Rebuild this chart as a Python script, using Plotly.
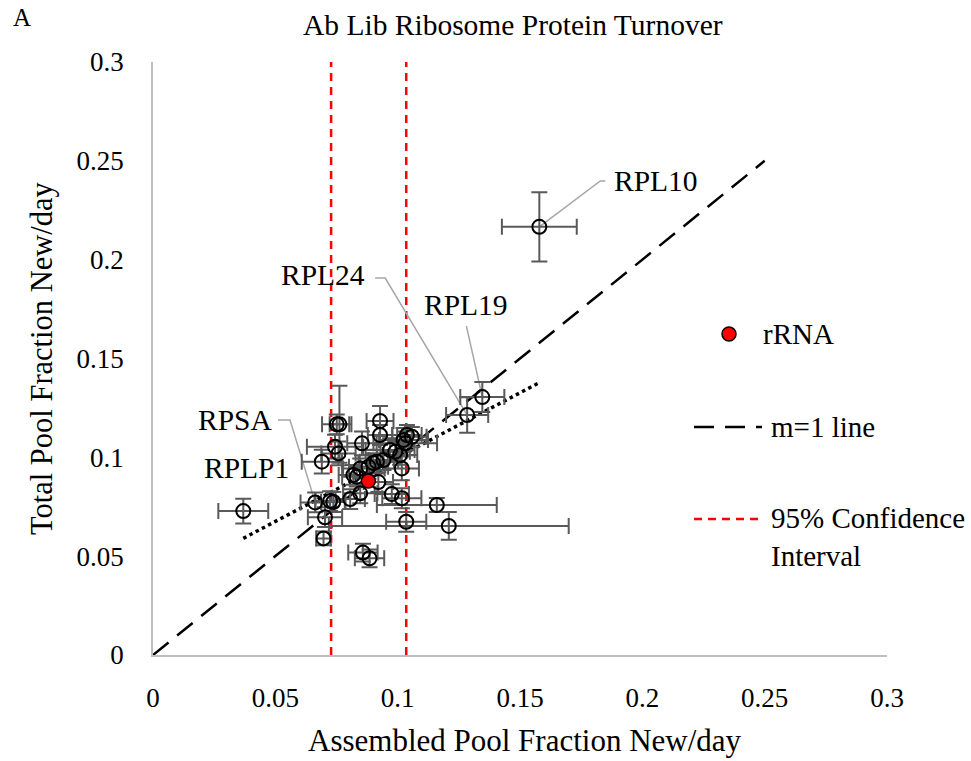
import plotly.graph_objects as go

# Ribosomal protein turnover: fraction new per day in the assembled pool (x)
# versus the total pool (y), with standard-error bars in both directions.
assembled = [0.1579, 0.1346, 0.1284, 0.0751, 0.0762, 0.0928, 0.0928, 0.0854, 0.0744, 0.0758,
             0.0690, 0.0969, 0.0990, 0.1010, 0.1038, 0.1058, 0.1024, 0.1031, 0.0915, 0.0942,
             0.0881, 0.0847, 0.0819, 0.0833, 0.1017, 0.0921, 0.0847, 0.0976, 0.1017, 0.0806,
             0.0663, 0.0724, 0.0737, 0.0369, 0.0703, 0.0697, 0.1160, 0.1035, 0.1209, 0.0858,
             0.0885, 0.0900]
total = [0.2166, 0.1305, 0.1214, 0.1167, 0.1167, 0.1184, 0.1113, 0.1071, 0.1054, 0.1020,
         0.0978, 0.1037, 0.1028, 0.1012, 0.1113, 0.1104, 0.1088, 0.1071, 0.0978, 0.0986,
         0.0952, 0.0944, 0.0911, 0.0902, 0.0944, 0.0875, 0.0818, 0.0814, 0.0793, 0.0789,
         0.0772, 0.0779, 0.0774, 0.0728, 0.0697, 0.0590, 0.0759, 0.0674, 0.0653, 0.0518,
         0.0489, 0.0971]
assembled_err = [0.0153, 0.0090, 0.0086, 0.0060, 0.0040, 0.0055, 0.0050, 0.0060, 0.0115, 0.0070,
                 0.0082, 0.0100, 0.0060, 0.0070, 0.0060, 0.0060, 0.0100, 0.0130, 0.0070, 0.0060,
                 0.0080, 0.0070, 0.0060, 0.0060, 0.0070, 0.0060, 0.0070, 0.0070, 0.0080, 0.0060,
                 0.0060, 0.0060, 0.0050, 0.0102, 0.0070, 0.0030, 0.0245, 0.0082, 0.0490, 0.0060,
                 0.0060, 0.0060]
total_err = [0.0175, 0.0076, 0.0090, 0.0050, 0.0195, 0.0076, 0.0050, 0.0060, 0.0060, 0.0060,
             0.0060, 0.0060, 0.0050, 0.0050, 0.0050, 0.0050, 0.0060, 0.0060, 0.0060, 0.0050,
             0.0060, 0.0050, 0.0050, 0.0050, 0.0060, 0.0050, 0.0050, 0.0050, 0.0050, 0.0050,
             0.0050, 0.0050, 0.0050, 0.0063, 0.0050, 0.0035, 0.0035, 0.0050, 0.0070, 0.0045,
             0.0045, 0.0050]

# Named proteins: index into the arrays above, label position (data units)
# and the elbow of the leader line (None = no leader).
named = {
    "RPL10": dict(idx=0, text=(0.1877, 0.2398), anchor="left", elbow=[(0.1849, 0.2398), (0.1828, 0.2398)]),
    "RPL19": dict(idx=1, text=(0.1281, 0.1770), anchor="center", elbow=[(0.1281, 0.1664)]),
    "RPL24": dict(idx=2, text=(0.0695, 0.1920), anchor="center", elbow=[(0.0908, 0.1907), (0.0949, 0.1907)]),
    "RPSA": dict(idx=30, text=(0.0335, 0.1189), anchor="center", elbow=[(0.0511, 0.1189), (0.0560, 0.1189)]),
    "RPLP1": dict(idx=31, text=(0.0384, 0.0946), anchor="center", elbow=None),
}

# rRNA reference point and its 95% confidence interval
rrna_x = [0.0880]
rrna_y = [0.0880]
ci_bounds = [0.0728, 0.1035]
unity_max = 0.25

# linear trendline of the protein data (slope, intercept)
trend_slope = 0.651
trend_intercept = 0.0350

x_ticks = [0, 0.05, 0.1, 0.15, 0.2, 0.25, 0.3]
y_ticks = [0, 0.05, 0.1, 0.15, 0.2, 0.25, 0.3]

FONT = "Liberation Serif, Times New Roman, serif"
W, H = 971, 761
L, R, T, B = 153, 84, 62, 106
PW, PH = W - L - R, H - T - B


def px(x, y):
    """Pixel position on the page -> paper coordinates."""
    return (x - L) / PW, (H - B - y) / PH


fig = go.Figure()

# y = x reference line
fig.add_trace(go.Scatter(x=[0, unity_max], y=[0, unity_max], mode="lines",
                         line=dict(color="black", width=2.5, dash="20px,11px"),
                         showlegend=False, hoverinfo="skip"))

# 95% confidence interval of the rRNA turnover
for cb in ci_bounds:
    fig.add_trace(go.Scatter(x=[cb, cb], y=[0, 0.3], mode="lines",
                             line=dict(color="#ff0000", width=2.5, dash="8px,6px"),
                             showlegend=False, hoverinfo="skip"))

# trendline spanning the protein data
tx = [min(assembled), max(assembled)]
fig.add_trace(go.Scatter(x=tx, y=[trend_slope * v + trend_intercept for v in tx], mode="lines",
                         line=dict(color="black", width=3.5, dash="dot"),
                         showlegend=False, hoverinfo="skip"))

# leader lines for the named proteins
for name, info in named.items():
    if info["elbow"] is None:
        continue
    pts = info["elbow"] + [(assembled[info["idx"]], total[info["idx"]])]
    fig.add_trace(go.Scatter(x=[p[0] for p in pts], y=[p[1] for p in pts], mode="lines",
                             line=dict(color="#a6a6a6", width=1.5),
                             showlegend=False, hoverinfo="skip"))

# protein measurements
fig.add_trace(go.Scatter(
    x=assembled, y=total, mode="markers",
    marker=dict(symbol="circle-open", size=14, color="black", line=dict(width=2)),
    error_x=dict(type="data", array=assembled_err, color="#595959", thickness=2, width=8),
    error_y=dict(type="data", array=total_err, color="#595959", thickness=2, width=8),
    showlegend=False, hoverinfo="skip"))

# rRNA
fig.add_trace(go.Scatter(x=rrna_x, y=rrna_y, mode="markers",
                         marker=dict(symbol="circle", size=14, color="#ff0000",
                                     line=dict(color="black", width=1.5)),
                         showlegend=False, hoverinfo="skip"))

annotations = []
for name, info in named.items():
    tx_, ty_ = info["text"]
    annotations.append(dict(x=tx_, y=ty_, xref="x", yref="y", text=name, showarrow=False,
                            xanchor=info["anchor"], yanchor="middle",
                            font=dict(family=FONT, size=29.5, color="black")))

# title, panel letter, axis titles
for txt, (x, y), size in [
    ("Ab Lib Ribosome Protein Turnover", (513, 25), 29.5),
    ("A", (22, 18), 25),
    ("Assembled Pool Fraction New/day", (525, 740), 31),
]:
    px_, py_ = px(x, y)
    annotations.append(dict(x=px_, y=py_, xref="paper", yref="paper", text=txt, showarrow=False,
                            xanchor="center", yanchor="middle",
                            font=dict(family=FONT, size=size, color="black")))
px_, py_ = px(42, 358)
annotations.append(dict(x=px_, y=py_, xref="paper", yref="paper", text="Total Pool Fraction New/day",
                        showarrow=False, textangle=-90, xanchor="center", yanchor="middle",
                        font=dict(family=FONT, size=30.5, color="black")))

# legend drawn by hand
shapes = []
cx, cy = px(729, 334)
rx, ry = 7 / PW, 7 / PH
shapes.append(dict(type="circle", xref="paper", yref="paper", x0=cx - rx, x1=cx + rx,
                   y0=cy - ry, y1=cy + ry, fillcolor="#ff0000", line=dict(color="black", width=1.5)))
x0, y0 = px(694, 427)
x1, _ = px(762, 427)
shapes.append(dict(type="line", xref="paper", yref="paper", x0=x0, x1=x1, y0=y0, y1=y0,
                   line=dict(color="black", width=2.5, dash="20px,11px")))
x0, y0 = px(694, 519)
x1, _ = px(758, 519)
shapes.append(dict(type="line", xref="paper", yref="paper", x0=x0, x1=x1, y0=y0, y1=y0,
                   line=dict(color="#ff0000", width=2.5, dash="8px,6px")))
for txt, (x, y) in [("rRNA", (761, 334)), ("m=1 line", (769, 427)),
                    ("95% Confidence<br>Interval", (769, 537))]:
    px_, py_ = px(x, y)
    annotations.append(dict(x=px_, y=py_, xref="paper", yref="paper", text=txt, showarrow=False,
                            xanchor="left", yanchor="middle", align="left",
                            font=dict(family=FONT, size=29, color="black")))

axis_common = dict(showgrid=False, zeroline=False, showline=True, linecolor="#bfbfbf", linewidth=1.5,
                   ticks="", tickfont=dict(family=FONT, size=27, color="black"))

fig.update_layout(
    width=W, height=H,
    margin=dict(l=L, r=R, t=T, b=B),
    paper_bgcolor="white", plot_bgcolor="white",
    xaxis=dict(range=[0, 0.3], tickvals=x_ticks, ticktext=[f"{v:g}" for v in x_ticks],
               ticklabelstandoff=18, **axis_common),
    yaxis=dict(range=[0, 0.3], tickvals=y_ticks, ticktext=[f"{v:g}" for v in y_ticks],
               ticklabelstandoff=22, **axis_common),
    annotations=annotations, shapes=shapes,
    showlegend=False,
)

fig.write_html("out.html")
